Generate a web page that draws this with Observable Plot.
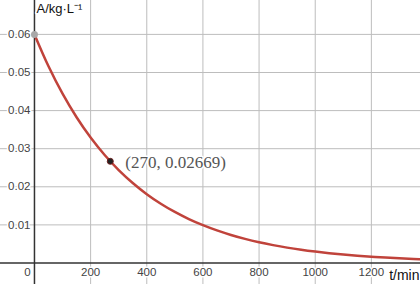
<!DOCTYPE html>
<html>
<head>
<meta charset="utf-8">
<script src="https://cdn.jsdelivr.net/npm/d3@7"></script>
<script src="https://cdn.jsdelivr.net/npm/@observablehq/plot@0.6"></script>
<style>
  html, body { margin: 0; padding: 0; background: #fff; }
  svg { display: block; }
</style>
</head>
<body>
<div id="chart"></div>
<script>
// Values
const tValues = [0, 50, 100, 150, 200, 250, 300, 350, 400, 450, 500, 550, 600, 650, 700,
  750, 800, 850, 900, 950, 1000, 1050, 1100, 1150, 1200, 1250, 1300, 1350, 1400];
const aValues = [0.06, 0.05164, 0.04445, 0.03826, 0.03293, 0.02834, 0.02439, 0.021, 0.01807,
  0.01556, 0.01339, 0.01152, 0.00992, 0.00854, 0.00735, 0.00632, 0.00544, 0.00469, 0.00403,
  0.00347, 0.00299, 0.00257, 0.00221, 0.0019, 0.00164, 0.00141, 0.00121, 0.00105, 0.0009];
const xTicks = [200, 400, 600, 800, 1000, 1200];
const yTicks = [0.01, 0.02, 0.03, 0.04, 0.05, 0.06];
const startPoint = [{t: 0, a: 0.06}];
const markedPoint = [{t: 270, a: 0.02669, label: "(270, 0.02669)"}];
const yTitle = "A/kg·L⁻¹";
const xTitle = "t/min";

const curve = tValues.map((t, i) => ({t, a: aValues[i]}));
const font = "Liberation Sans, Arial, sans-serif";

const chart = Plot.plot({
  width: 420,
  height: 284,
  margin: 0,
  style: {background: "#fff", fontFamily: font},
  x: {domain: [-121, 1375], axis: null},
  y: {domain: [-0.00565, 0.0689], axis: null},
  marks: [
    Plot.gridX(xTicks, {stroke: "#bdbdbd", strokeOpacity: 1, strokeWidth: 1}),
    Plot.gridY(yTicks, {stroke: "#bdbdbd", strokeOpacity: 1, strokeWidth: 1}),
    Plot.ruleX([0], {stroke: "#333", strokeWidth: 1.5}),
    Plot.ruleY([0], {stroke: "#333", strokeWidth: 1.5}),
    Plot.text(yTicks, {x: 0, y: d => d, text: d => d3.format(".2f")(d), dx: -4, textAnchor: "end",
      fontSize: 11.5, fill: "#444", stroke: "white", strokeWidth: 3}),
    Plot.text(xTicks, {x: d => d, y: 0, text: d => String(d), dy: 9, lineAnchor: "middle",
      fontSize: 11.5, fill: "#444", stroke: "white", strokeWidth: 3}),
    Plot.text([0], {x: 0, y: 0, text: d => "0", dx: -7, dy: 9, lineAnchor: "middle",
      fontSize: 11.5, fill: "#444", stroke: "white", strokeWidth: 3}),
    Plot.line(curve, {x: "t", y: "a", stroke: "#c0433b", strokeWidth: 2.5, curve: "catmull-rom"}),
    Plot.dot(startPoint, {x: "t", y: "a", r: 3.5, fill: "#a8a8a8", stroke: "none"}),
    Plot.dot(markedPoint, {x: "t", y: "a", r: 3, fill: "#222", stroke: "#6b2020", strokeWidth: 1}),
    Plot.text(markedPoint, {x: "t", y: "a", text: "label", dx: 15, dy: 1, textAnchor: "start",
      fontFamily: "Liberation Serif, Times New Roman, serif", fontSize: 17, fill: "#555",
      stroke: "white", strokeWidth: 3}),
    Plot.text([yTitle], {frameAnchor: "top-left", dx: 36, dy: 3, text: d => d, textAnchor: "start",
      lineAnchor: "top", fontSize: 13, fill: "#111", stroke: "white", strokeWidth: 3}),
    Plot.text([xTitle], {frameAnchor: "bottom-right", dx: -1, dy: -5, text: d => d, textAnchor: "end",
      lineAnchor: "bottom", fontSize: 14, fill: "#111", stroke: "white", strokeWidth: 3})
  ]
});
document.getElementById("chart").appendChild(chart);
</script>
</body>
</html>
